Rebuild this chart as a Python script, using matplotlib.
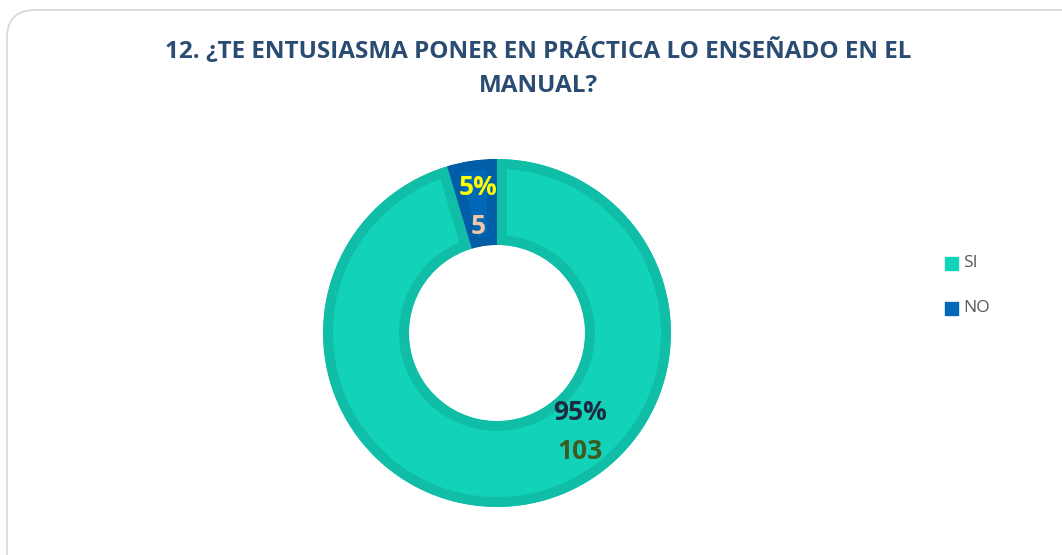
import matplotlib
matplotlib.use("Agg")
from matplotlib import pyplot as plt
from matplotlib.patches import FancyBboxPatch
import numpy as np

# datos del gráfico
categorias = ["SI", "NO"]
valores = [103, 5]
porcentajes = ["95%", "5%"]
titulo = "12. ¿TE ENTUSIASMA PONER EN PRÁCTICA LO ENSEÑADO EN EL\nMANUAL?"

colores = ["#12D3BA", "#0068B6"]
bordes = ["#10BEA8", "#005DA6"]
color_pct = ["#1E2A40", "#FFFF00"]
color_val = ["#3E5A20", "#F5C6A5"]

W, H = 1062, 555
fig = plt.figure(figsize=(W / 100, H / 100), dpi=100)
ax = fig.add_axes([0, 0, 1, 1])
ax.set_xlim(0, W)
ax.set_ylim(0, H)
ax.set_aspect("equal")
ax.axis("off")

# marco redondeado
marco = FancyBboxPatch((7, -30), W + 20, H - 10 + 30,
                       boxstyle="round,pad=0,rounding_size=28",
                       fc="white", ec="#D9D9D9", lw=1.3)
ax.add_patch(marco)

plt.rcParams['font.family'] = ['Open Sans', 'DejaVu Sans']

centro = (497, H - 333)
radio = 174
wedges, _ = ax.pie(valores, colors=colores, startangle=90, counterclock=False,
                   center=centro, radius=radio, frame=True,
                   wedgeprops=dict(width=86, linewidth=14.4))
# borde solo hacia dentro de cada sector
for w, b in zip(wedges, bordes):
    w.set_edgecolor(b)
    w.set_clip_on(True)
    w.set_clip_path(w.get_path(), w.get_transform())
ax.set_xlim(0, W)
ax.set_ylim(0, H)
ax.axis("off")

# etiquetas
total = sum(valores)
angulos = [-50, 90 + 360 * valores[1] / total / 2]
dist = [129, 128]
for i in range(len(valores)):
    a = np.deg2rad(angulos[i])
    x = centro[0] + dist[i] * np.cos(a)
    y = centro[1] + dist[i] * np.sin(a)
    ax.text(x, y + 19, porcentajes[i], color=color_pct[i], fontsize=19,
            fontweight="bold", ha="center", va="center")
    ax.text(x, y - 20, str(valores[i]), color=color_val[i], fontsize=19,
            fontweight="bold", ha="center", va="center")

ax.text(538, H - 68, titulo, color="#2B4C72", fontsize=17.5, fontweight="bold",
        ha="center", va="center", linespacing=1.5)

# leyenda
for i, cat in enumerate(categorias):
    yy = H - 263 - 45 * i
    ax.add_patch(plt.Rectangle((945, yy - 6.5), 13, 13, color=colores[i]))
    ax.text(963, yy, cat, color="#595959", fontsize=12.5, va="center", ha="left")

fig.savefig("out.png", dpi=100)
